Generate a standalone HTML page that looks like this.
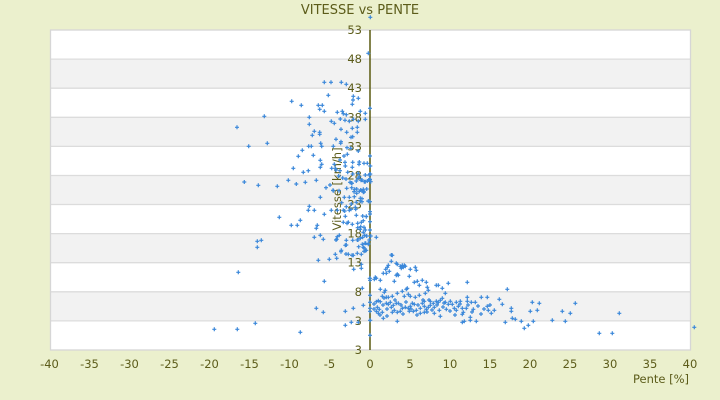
<!DOCTYPE html>
<html>
<head>
<meta charset="utf-8">
<style>
  html,body{margin:0;padding:0;background:#ebf0cd;}
  body{width:720px;height:400px;overflow:hidden;}
  svg{display:block;}
  text{font-family:"DejaVu Sans","Liberation Sans",sans-serif;fill:#5c5c1a;}
</style>
</head>
<body>
<svg id="s" width="720" height="400" viewBox="0 0 720 400" xmlns="http://www.w3.org/2000/svg">
  <rect x="0" y="0" width="720" height="400" fill="#ebf0cd"/>
  <rect x="50.5" y="30" width="640" height="320" fill="#ffffff"/>
  <g fill="#f2f2f2">
    <rect x="51" y="59.1" width="639" height="29.1"/>
    <rect x="51" y="117.3" width="639" height="29.1"/>
    <rect x="51" y="175.5" width="639" height="29.1"/>
    <rect x="51" y="233.7" width="639" height="29.1"/>
    <rect x="51" y="291.8" width="639" height="29.1"/>
  </g>
  <g stroke="#dcdcdc" stroke-width="1.3">
    <line x1="51" x2="690" y1="59.1" y2="59.1"/>
    <line x1="51" x2="690" y1="88.2" y2="88.2"/>
    <line x1="51" x2="690" y1="117.3" y2="117.3"/>
    <line x1="51" x2="690" y1="146.4" y2="146.4"/>
    <line x1="51" x2="690" y1="175.5" y2="175.5"/>
    <line x1="51" x2="690" y1="204.5" y2="204.5"/>
    <line x1="51" x2="690" y1="233.6" y2="233.6"/>
    <line x1="51" x2="690" y1="262.7" y2="262.7"/>
    <line x1="51" x2="690" y1="291.8" y2="291.8"/>
    <line x1="51" x2="690" y1="320.9" y2="320.9"/>
  </g>
  <rect x="50.5" y="30" width="640" height="320" fill="none" stroke="#d6d6d6" stroke-width="1.3"/>

  <line x1="370" y1="30" x2="370" y2="350" stroke="#5a5a10" stroke-width="1.5"/>

  <text x="360" y="14" font-size="13" text-anchor="middle">VITESSE vs PENTE</text>

  <g font-size="11.5" text-anchor="end">
    <text x="362" y="34">53</text>
    <text x="362" y="63.1">48</text>
    <text x="362" y="92.2">43</text>
    <text x="362" y="121.3">38</text>
    <text x="362" y="150.4">33</text>
    <text x="362" y="179.5">28</text>
    <text x="362" y="208.5">23</text>
    <text x="362" y="237.6">18</text>
    <text x="362" y="266.7">13</text>
    <text x="362" y="295.8">8</text>
    <text x="362" y="324.9">3</text>
    <text x="362" y="354">3</text>
  </g>

  <g font-size="11.5" text-anchor="middle">
    <text x="49.5" y="368">-40</text>
    <text x="89.5" y="368">-35</text>
    <text x="129.5" y="368">-30</text>
    <text x="169.5" y="368">-25</text>
    <text x="209.5" y="368">-20</text>
    <text x="249.5" y="368">-15</text>
    <text x="289.5" y="368">-10</text>
    <text x="329.5" y="368">-5</text>
    <text x="370" y="368">0</text>
    <text x="410" y="368">5</text>
    <text x="450" y="368">10</text>
    <text x="490" y="368">15</text>
    <text x="530" y="368">20</text>
    <text x="570" y="368">25</text>
    <text x="610" y="368">30</text>
    <text x="650" y="368">35</text>
    <text x="690" y="368">40</text>
  </g>

  <text x="689" y="383" font-size="11.5" text-anchor="end">Pente [%]</text>
  <text transform="translate(341,189) rotate(-90)" font-size="11.5" text-anchor="middle">Vitesse [km/h]</text>

  <path id="pts" fill="none" stroke="#3b88da" stroke-width="1.2" d=""/>
</svg>
<script>
(function(){
  var p=[
  324.3,82.3,331,82.3,341.3,82.3,346.3,84.3,
  353.3,96.3,358.3,98.3,353,100,
  291.7,101.3,301.3,105.3,328.3,95.3,
  318.3,105.3,322.3,105.3,319.7,109.3,324.3,111.3,
  352.3,104.3,360.3,111.3,365.3,113.3,370,108.3,
  337.3,112.3,342.3,111.3,343.3,113.7,346.3,114.7,340.3,119,345,120.3,349.3,121.3,353.3,119.3,358.3,121.3,365.3,119.3,
  309.3,117.3,309.3,124.3,331.3,121.3,334.3,123.3,
  341,129.3,352.3,128.3,357.3,127.3,357.3,132.3,352.7,136.7,351,137.3,346.7,132.3,
  314.3,131.3,312.3,135.3,319.7,132.3,319.7,134.3,
  336,139.3,341,141.7,340.7,143.3,
  308.7,146.3,311.3,146.3,320.7,143.3,321.7,146.3,333.3,146.3,
  347,147.7,350.7,148.3,358.3,151,370,156,
  302.3,150.3,298.3,156.3,313.3,155.3,
  320.3,160.3,321.7,164.3,320.3,167.3,293.3,168.3,303.3,172.3,308.3,170.7,
  334.3,164.3,335.3,168.3,331.7,168.3,345,162.3,345.3,166,352.7,162.3,359.3,162,359,164.3,364,163.3,367.3,163.3,352.3,167.3,
  347.7,172.3,352.7,174,359.3,176.7,365.3,175,369.3,175,368.7,180,370.7,181.7,365.3,181.7,361,180.3,356.3,181,351.3,183,351.7,187.7,356.7,189,360.7,190,363.3,192.3,
  288.3,180.3,296.3,184,305.3,182.3,316.3,180.3,326,187.7,330,185,333,190.3,346.7,188.3,
  264.3,116.3,237,127.3,248.7,146.3,267.3,143.3,244.3,182,258.3,185.3,277.3,186.3,
  368.3,53.3,370.3,17.3,
  347.3,154.3,344,156,340,160,358.3,173.3,358,178.3,362,180,364.3,181.7,367.3,181,369.7,180,370.3,174,370.3,166,
  336,170,340,170.7,338.7,176,342.7,178,346,179,350,182.3,352,183.3,
  354.7,189.3,354,191.7,359.3,191.3,363.3,189.3,364,192,366.7,189,
  362,198.7,360.3,200.7,362,201.7,355.3,207.3,351,209.3,344.7,211,341.7,202.7,346.3,206.7,351.3,204,368.3,201.3,
  366.3,216.7,362.7,216,363.3,220.7,357.7,223.3,357.7,227.7,360.7,226.7,365.3,230,366.7,236,362.7,237.3,358,240,358.7,246.7,364,248,365,243.3,368.3,243.3,369.3,240,370.7,236,376.3,237.3,
  337.3,236.7,336,240,345.3,245.3,341,251.7,346,254,352,255.3,336.7,258.3,391.3,255,
  370,174,370,179.3,370,201.7,370,211.7,370,214,370,221.7,370,230,
  320.3,197.3,309.3,206.3,308.3,210.3,314.3,210.3,324.3,214.3,331.3,210.3,279.3,217.3,291.3,225.3,297.3,225.3,300.3,220.3,317.3,225.3,316.3,228.3,
  257.3,241.3,261.3,240.3,257.3,247.3,
  314.3,237.3,320.3,235.3,323.3,239.3,
  318.3,260.3,329.3,259.3,335.3,254.3,341.3,250.3,348.3,254.3,
  238.3,272.3,324.3,281.3,
  316.3,308.3,323.3,312.3,
  214.3,329.3,237.3,329.3,255.3,323.3,300.3,332.3,
  345.3,311.3,353.3,308.3,363.3,305.3,
  345.3,325.3,351.3,322.3,358.3,322.3,
  362.3,288.3,
  333.3,190.7,339,190.7,344.3,197.3,349.3,197.3,354.3,196.7,356.7,193.3,360.3,198.3,363.3,191,368.3,201,356.3,202.3,
  337.3,210.3,343.3,210.3,349.3,210.3,355.7,209.3,345.3,216.3,356.3,215.3,366.3,216.3,361.3,222.3,343.3,222.3,347,223.3,352.3,224.3,348.3,222.3,
  364,227.3,360.3,229.3,363.3,232.3,364.7,235.3,360.3,238.3,357.3,240,362.3,244.3,365.7,243.3,363.3,247.3,364,251.3,366.3,250.3,368.3,244.3,361.3,254.3,357.3,253.3,353.3,255.3,
  336.7,239.3,339.3,235.3,346.3,240.3,346.3,245,352.7,240.3,
  353.7,269.3,361.3,268.3,361.3,264.3,365.3,250.7,
  370,278.3,370,280.3,370,295.3,370,302.3,370,308.3,370,311.3,370,320.3,370,335.3,
  392.3,255.3,391.3,261.3,388.3,265.3,387.3,267.3,385.7,269.3,383.3,273.3,386.3,273.3,389.3,271.3,396.3,263.3,397.3,264.3,400.3,266.3,402.3,265.3,404.3,265.3,405.3,266.3,403.3,267.3,401.3,268.3,410.3,269.3,415.3,267.3,416.3,270.3,397.3,274.3,396.3,275.3,398.3,275.3,409.3,276.3,394.3,281.3,380.3,280.3,375.3,277.3,374.3,279.3,376.3,278.3,369.7,278.3,414.3,282.3,417.3,281.3,422.3,280.3,419.3,285.3,426.3,282.3,427.3,287.3,428.3,290.3,436.3,285.3,438.3,285.3,442.3,288.3,448.3,283.3,445.3,293.3,467.3,282.3,
  380.3,289.3,385.3,290.3,384.3,292.3,382.3,296.3,386.3,297.3,388.3,297.3,392.3,296.3,397.3,293.3,402.3,291.3,406.3,289.3,407.3,288.3,404.3,296.3,410.3,296.3,408.3,294.3,419.3,295.3,425.3,293.3,415.3,297.3,424.3,301.3,430.3,301.3,442.3,298.3,445.3,302.3,450.3,301.3,456.3,302.3,460.3,301.3,467.3,297.3,467.3,301.3,471.3,302.3,475.3,302.3,481.3,297.3,487.3,297.3,499.3,299.3,502.3,304.3,487.3,306.3,488.3,310.3,494.3,310.3,491.3,313.3,463.3,312.3,462.3,314.3,470.3,317.3,476.3,321.3,464.3,321.3,462.3,322.3,470.3,320.3,440.3,316.3,397.3,321.3,383.3,318.3,370.3,320.3,
  376.3,301.7,378.3,300.7,380.3,301.7,377.3,307.3,379.3,309.3,376.3,311.3,378.3,313.3,382.3,312.3,386.3,303.3,388.3,304.3,390.3,302.3,391.3,307.3,393.3,305.3,396.3,303.3,398.3,303.3,394.3,310.3,392.3,312.3,397.3,312.3,400.3,311.3,402.3,308.3,405.3,307.3,408.3,308.3,410.3,306.3,412.3,303.3,414.3,304.3,409.3,311.3,413.3,311.3,416.3,310.3,420.3,308.3,422.3,303.3,424.3,306.3,426.3,309.3,428.3,307.3,430.3,305.3,433.3,303.3,434.3,307.3,436.3,301.3,438.3,302.3,440.3,300.3,439.3,310.3,434.3,313.3,420.3,313.3,424.3,312.3,446.3,309.3,448.3,304.3,452.3,304.3,454.3,308.3,456.3,310.3,458.3,306.3,462.3,308.3,466.3,308.3,473.3,309.3,
  383,305,387,309,395,300,401,305,406,302,411,309,418,305,423,300,427,312,432,310,437,305,443,307,450,311,444,303,460,304,468,305,472,312,478,306,484,309,374,304,374,309,384,298,403,314,417,315,429,300,455,315,481,314,490,305,380,315,387,316,
  491.3,313.3,494.3,310.3,499.3,299.3,502.3,304.3,507.3,289.3,505.3,322.3,511.3,308.3,511.3,311.3,512.3,318.3,515.3,319.3,521.3,321.3,524.3,328.3,528.3,325.3,530.3,311.3,532.3,302.3,533.3,321.3,537.3,310.3,539.3,303.3,552.3,320.3,562.3,311.3,565.3,321.3,570.3,313.3,575.3,303.3,599.3,333.3,612.3,333.3,619.3,313.3,694.3,327.3
  ];
  var d='';
  for(var i=0;i<p.length;i+=2){
    var x=p[i],y=p[i+1];
    d+='M'+(x-2).toFixed(1)+' '+y.toFixed(1)+'h4M'+x.toFixed(1)+' '+(y-2).toFixed(1)+'v4';
  }
  document.getElementById('pts').setAttribute('d',d);
})();
</script>
</body>
</html>
